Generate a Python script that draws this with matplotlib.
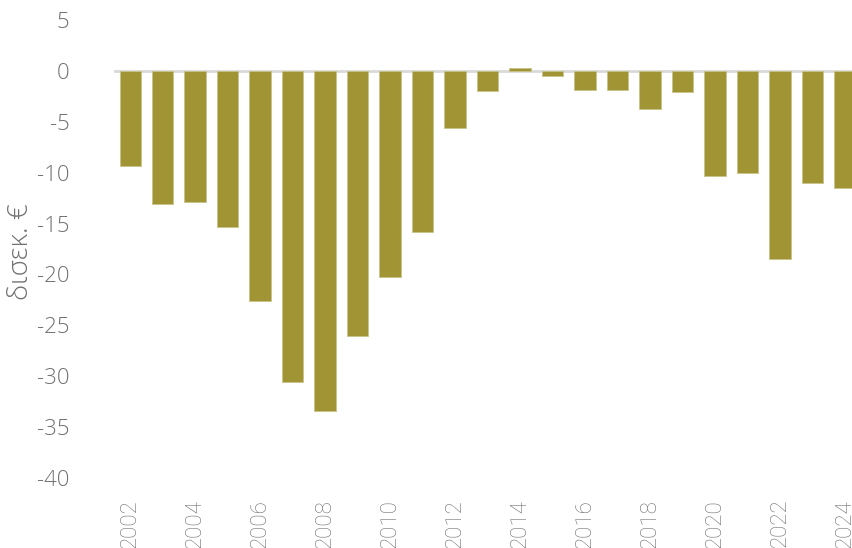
import matplotlib
matplotlib.use('Agg')
import matplotlib.pyplot as plt

years = list(range(2002, 2025))
values = [-9.3, -13.1, -12.9, -15.3, -22.6, -30.6, -33.4, -26.0, -20.3, -15.8,
          -5.65, -2.0, 0.3, -0.5, -1.9, -1.9, -3.7, -2.1, -10.3, -10.0,
          -18.5, -11.0, -11.5]
xtick_years = years[::2]
yticks = list(range(-40, 10, 5))

BAR = '#a09434'
GREY = '#707070'

fig = plt.figure(figsize=(8.53, 5.48), dpi=100)
W, H = 853.0, 548.0
# axes in pixel coords: x 114..853, y 20..478 (top..bottom)
ax = fig.add_axes([114 / W, (H - 478) / H, (853 - 114) / W, (478 - 20) / H])

ax.bar(years, values, width=0.66, color=BAR, edgecolor='#c9c28a', linewidth=0.6, zorder=2)
ax.axhline(0, color='#d9d9d9', linewidth=2, zorder=1)

ax.set_xlim(2001.5, 2024.25)
ax.set_ylim(-40, 5)
ax.set_yticks(yticks)
ax.set_yticklabels([str(t) for t in yticks], family='Open Sans', fontweight='light',
                   fontsize=16, color=GREY)
ax.set_xticks(xtick_years)
ax.set_xticklabels([str(y) for y in xtick_years], rotation=90, family='Roboto',
                   fontweight='light', fontsize=16, color=GREY, va='top')
ax.tick_params(axis='both', length=0)
ax.tick_params(axis='y', pad=32)
ax.tick_params(axis='x', pad=15)
for s in ax.spines.values():
    s.set_visible(False)

fig.text(21 / W, 1 - 252 / H, 'δισεκ. €', rotation=90, family='Open Sans', fontweight='light',
         fontsize=20, color=GREY, ha='center', va='center')

fig.savefig('out.png', dpi=100)
